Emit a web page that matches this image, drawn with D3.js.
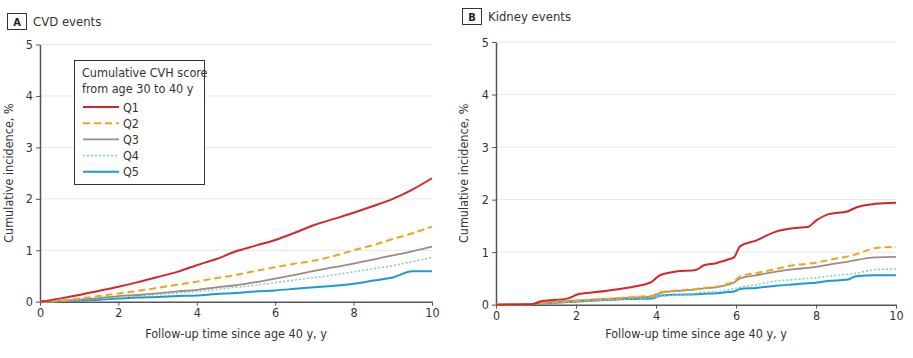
<!DOCTYPE html>
<html>
<head>
<meta charset="utf-8">
<script src="https://cdn.jsdelivr.net/npm/d3@7"></script>
<style>
  body { margin: 0; background: #fff; }
  svg { font-family: "Liberation Sans Narrow", "DejaVu Sans Condensed", "Open Sans", sans-serif; }
</style>
</head>
<body>
<svg id="chart" width="913" height="358"></svg>
<script>
// Data
const groups = ["Q1", "Q2", "Q3", "Q4", "Q5"];

const cvdTime = [0, 0.5, 1, 1.5, 2, 2.5, 3, 3.5, 4, 4.5, 5, 5.5, 6, 6.5, 7, 7.5, 8, 8.5, 9, 9.5, 10];
const cvdQ1 = [0, 0.06, 0.13, 0.21, 0.29, 0.38, 0.48, 0.58, 0.71, 0.83, 0.98, 1.09, 1.2, 1.34, 1.49, 1.61, 1.73, 1.86, 2.0, 2.18, 2.4];
const cvdQ2 = [0, 0.02, 0.06, 0.11, 0.16, 0.21, 0.27, 0.33, 0.39, 0.46, 0.52, 0.6, 0.67, 0.74, 0.8, 0.89, 1.0, 1.1, 1.22, 1.33, 1.46];
const cvdQ3 = [0, 0.01, 0.04, 0.07, 0.11, 0.13, 0.16, 0.2, 0.23, 0.28, 0.32, 0.38, 0.45, 0.52, 0.6, 0.67, 0.74, 0.82, 0.9, 0.98, 1.07];
const cvdQ4 = [0, 0.01, 0.03, 0.06, 0.09, 0.12, 0.14, 0.17, 0.2, 0.24, 0.28, 0.32, 0.37, 0.42, 0.47, 0.52, 0.58, 0.64, 0.7, 0.78, 0.86];
const cvdQ5 = [0, 0.01, 0.02, 0.04, 0.06, 0.08, 0.09, 0.11, 0.12, 0.15, 0.17, 0.2, 0.22, 0.25, 0.28, 0.31, 0.35, 0.41, 0.47, 0.59, 0.59];

const kidTime = [0, 0.9, 1.1, 1.8, 2.05, 2.5, 3, 3.5, 3.9, 4.1, 4.5, 5, 5.2, 5.5, 5.8, 5.95, 6.1, 6.5, 7, 7.5, 7.8, 8, 8.3, 8.8, 9, 9.5, 10];
const kidQ1 = [0, 0.01, 0.06, 0.12, 0.2, 0.24, 0.29, 0.35, 0.44, 0.56, 0.63, 0.66, 0.75, 0.79, 0.86, 0.9, 1.11, 1.22, 1.39, 1.46, 1.48, 1.6, 1.72, 1.78, 1.85, 1.92, 1.94];
const kidQ2 = [0, 0.01, 0.03, 0.07, 0.08, 0.1, 0.12, 0.15, 0.17, 0.24, 0.27, 0.3, 0.32, 0.34, 0.4, 0.44, 0.54, 0.6, 0.68, 0.76, 0.78, 0.8, 0.85, 0.92, 0.96, 1.08, 1.1];
const kidQ3 = [0, 0.01, 0.03, 0.07, 0.08, 0.1, 0.12, 0.14, 0.16, 0.22, 0.26, 0.29, 0.31, 0.33, 0.38, 0.42, 0.5, 0.56, 0.63, 0.68, 0.7, 0.72, 0.76, 0.82, 0.85, 0.9, 0.91];
const kidQ4 = [0, 0.01, 0.02, 0.05, 0.07, 0.08, 0.1, 0.12, 0.14, 0.16, 0.18, 0.22, 0.24, 0.25, 0.28, 0.3, 0.33, 0.38, 0.45, 0.48, 0.5, 0.51, 0.54, 0.58, 0.6, 0.67, 0.68];
const kidQ5 = [0, 0.01, 0.02, 0.05, 0.06, 0.08, 0.1, 0.11, 0.12, 0.17, 0.19, 0.2, 0.21, 0.22, 0.24, 0.25, 0.3, 0.32, 0.36, 0.39, 0.41, 0.42, 0.45, 0.48, 0.54, 0.56, 0.56];

const yTicks = [0, 1, 2, 3, 4, 5];
const xTicks = [0, 2, 4, 6, 8, 10];

// Styles per group
const colors = ["#d7262b", "#f2a21f", "#9a8e82", "#8ccdb9", "#1c9ad6"];
const dashes = [null, "7,4", null, "2,2", null];
const widths = [2, 2, 1.8, 1.6, 2];

const svg = d3.select("#chart");

const panels = [
  { letter: "A", title: "CVD events", time: cvdTime, series: [cvdQ1, cvdQ2, cvdQ3, cvdQ4, cvdQ5],
    x0: 40, x1: 432, y0: 301.7, y1: 44.5, box: [7, 13], titleX: 33, axisTitleX: 13, legend: true },
  { letter: "B", title: "Kidney events", time: kidTime, series: [kidQ1, kidQ2, kidQ3, kidQ4, kidQ5],
    x0: 496, x1: 896, y0: 304.7, y1: 42, box: [462, 8], titleX: 488, axisTitleX: 468, legend: false }
];

panels.forEach((p) => {
  const x = d3.scaleLinear().domain([0, 10]).range([p.x0, p.x1]);
  const y = d3.scaleLinear().domain([0, 5]).range([p.y0, p.y1]);
  const g = svg.append("g");

  // header
  g.append("rect")
    .attr("x", p.box[0] + 0.5).attr("y", p.box[1] + 0.5)
    .attr("width", 19).attr("height", 16)
    .attr("fill", "none").attr("stroke", "#333").attr("stroke-width", 1);
  g.append("text")
    .attr("x", p.box[0] + 10).attr("y", p.box[1] + 12.5)
    .attr("text-anchor", "middle").attr("font-size", 11).attr("font-weight", "bold")
    .attr("fill", "#222").text(p.letter);
  g.append("text")
    .attr("x", p.titleX).attr("y", p.box[1] + 13)
    .attr("font-size", 13).attr("fill", "#333").text(p.title);

  // grid
  g.append("g").selectAll("line")
    .data(yTicks.filter((d) => d > 0))
    .join("line")
    .attr("x1", p.x0).attr("x2", p.x1)
    .attr("y1", (d) => y(d)).attr("y2", (d) => y(d))
    .attr("stroke", "#e6e6e6").attr("stroke-width", 1);

  // axes
  const yAxis = g.append("g")
    .attr("transform", "translate(" + p.x0 + ",0)")
    .call(d3.axisLeft(y).tickValues(yTicks).tickFormat(d3.format("d"))
      .tickSize(4).tickPadding(3).tickSizeOuter(0));
  const xAxis = g.append("g")
    .attr("transform", "translate(0," + p.y0 + ")")
    .call(d3.axisBottom(x).tickValues(xTicks).tickFormat(d3.format("d"))
      .tickSize(4).tickPadding(2).tickSizeOuter(0));
  [yAxis, xAxis].forEach((a) => {
    a.select(".domain").attr("stroke", "#555").attr("stroke-width", 1.5);
    a.selectAll(".tick line").attr("stroke", "#555");
    a.selectAll(".tick text").attr("font-size", 12.5).attr("fill", "#333")
      .attr("font-family", "Liberation Sans Narrow, DejaVu Sans Condensed, sans-serif");
  });

  // axis titles
  g.append("text")
    .attr("transform", "translate(" + p.axisTitleX + "," + ((p.y0 + p.y1) / 2) + ") rotate(-90)")
    .attr("text-anchor", "middle").attr("font-size", 12.5).attr("fill", "#333")
    .text("Cumulative incidence, %");
  g.append("text")
    .attr("x", (p.x0 + p.x1) / 2).attr("y", 338)
    .attr("text-anchor", "middle").attr("font-size", 12.5).attr("fill", "#333")
    .text("Follow-up time since age 40 y, y");

  // lines, drawn Q5 first so Q1 is on top
  const line = d3.line()
    .x((d, i) => x(p.time[i]))
    .y((d) => y(d))
    .curve(d3.curveMonotoneX);
  for (let k = groups.length - 1; k >= 0; k--) {
    g.append("path")
      .datum(p.series[k])
      .attr("d", line)
      .attr("fill", "none")
      .attr("stroke", colors[k])
      .attr("stroke-width", widths[k])
      .attr("stroke-dasharray", dashes[k]);
  }

  // legend
  if (p.legend) {
    const lg = g.append("g");
    lg.append("rect")
      .attr("x", 74.5).attr("y", 60.5).attr("width", 130).attr("height", 124)
      .attr("fill", "#fff").attr("stroke", "#333").attr("stroke-width", 1);
    lg.append("text").attr("x", 82).attr("y", 77).attr("font-size", 12.5).attr("fill", "#333")
      .text("Cumulative CVH score");
    lg.append("text").attr("x", 82).attr("y", 93).attr("font-size", 12.5).attr("fill", "#333")
      .text("from age 30 to 40 y");
    groups.forEach((gr, k) => {
      const yy = 107 + k * 16.2;
      lg.append("line")
        .attr("x1", 83).attr("x2", 119).attr("y1", yy).attr("y2", yy)
        .attr("stroke", colors[k]).attr("stroke-width", widths[k])
        .attr("stroke-dasharray", dashes[k]);
      lg.append("text").attr("x", 123).attr("y", yy + 4.5)
        .attr("font-size", 12.5).attr("fill", "#333").text(gr);
    });
  }
});
</script>
</body>
</html>
